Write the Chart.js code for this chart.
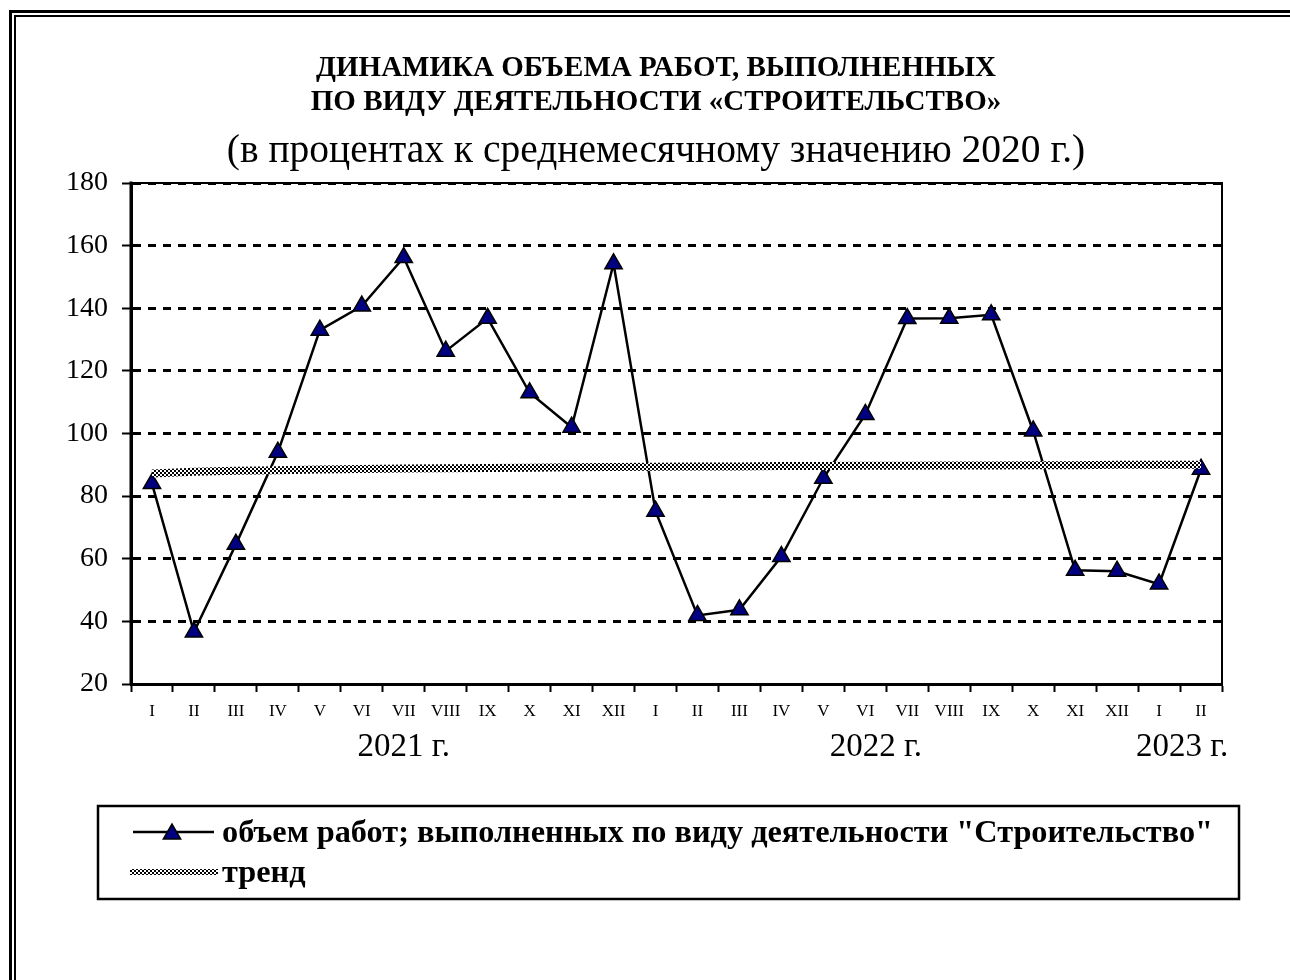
<!DOCTYPE html>
<html>
<head>
<meta charset="utf-8">
<script src="https://cdn.jsdelivr.net/npm/chart.js@4.4.0/dist/chart.umd.min.js"></script>
<style>
  html, body { margin: 0; padding: 0; background: #fff; overflow: hidden; }
  #wrap { position: relative; width: 1290px; height: 980px; }
  .frameOuter { position: absolute; left: 9px; top: 10px; width: 1400px; height: 1100px; border: 3px solid #000; box-sizing: border-box; }
  .frameInner { position: absolute; left: 14px; top: 15px; width: 1400px; height: 1100px; border: 2px solid #000; box-sizing: border-box; }
  canvas { position: absolute; left: 0; top: 0; }
</style>
</head>
<body>
<div id="wrap">
  <div class="frameOuter"></div>
  <div class="frameInner"></div>
  <canvas id="c" width="1290" height="980"></canvas>
</div>
<script>
// ---- data ----
const months = ['I','II','III','IV','V','VI','VII','VIII','IX','X','XI','XII',
                'I','II','III','IV','V','VI','VII','VIII','IX','X','XI','XII',
                'I','II'];
const volumeValues = [84, 36.6, 64.6, 94, 133, 140.7, 156.2, 126.3, 136.8, 113, 102, 154.2,
                      75.2, 41.9, 43.7, 60.7, 85.7, 106.1, 136.7, 136.8, 137.9, 100.8, 56.3, 56,
                      51.9, 88.6];
const trendValues = [87.2, 87.8, 88.1, 88.3, 88.5, 88.7, 88.8, 88.9, 89.0, 89.1, 89.2, 89.3,
                     89.4, 89.5, 89.5, 89.6, 89.6, 89.7, 89.7, 89.8, 89.8, 89.9, 89.9, 90.0,
                     90.0, 90.0];
const yearLabels = ['2021 г.', '2022 г.', '2023 г.'];
const yearLabelAt = [6, 17.25, 24.55];
const yTicks = { min: 20, max: 180, step: 20 };
const titleLines = ['ДИНАМИКА ОБЪЕМА РАБОТ, ВЫПОЛНЕННЫХ', 'ПО ВИДУ ДЕЯТЕЛЬНОСТИ «СТРОИТЕЛЬСТВО»'];
const subtitleText = '(в процентах к среднемесячному значению 2020 г.)';
const seriesNames = ['объем работ; выполненных по виду деятельности "Строительство"', 'тренд'];

const SERIF = '"Liberation Serif", "Times New Roman", serif';

// checkered pattern for the trend line
function makeChecker(cell) {
  const pc = document.createElement('canvas');
  pc.width = cell * 2; pc.height = cell * 2;
  const g = pc.getContext('2d');
  g.fillStyle = '#fff'; g.fillRect(0, 0, pc.width, pc.height);
  g.fillStyle = '#000';
  g.fillRect(0, 0, cell, cell);
  g.fillRect(cell, cell, cell, cell);
  return g.createPattern(pc, 'repeat');
}
const ctx = document.getElementById('c').getContext('2d');
const checker = makeChecker(2);

const framePlugin = {
  id: 'framePlugin',
  beforeDatasetsDraw(chart) {
    const a = chart.chartArea, c = chart.ctx;
    c.save();
    c.strokeStyle = '#000';
    c.lineWidth = 2;
    c.beginPath();
    c.moveTo(a.left, a.top); c.lineTo(a.right, a.top); c.lineTo(a.right, a.bottom);
    c.stroke();
    c.lineWidth = 3;
    c.beginPath();
    c.moveTo(a.left, a.top - 1.5); c.lineTo(a.left, a.bottom);
    c.stroke();
    c.restore();
  },
  afterDraw(chart) {
    const c = chart.ctx;
    const xs = chart.scales.x;
    c.save();
    c.fillStyle = '#000';
    // titles
    c.textAlign = 'center';
    c.textBaseline = 'middle';
    c.font = 'bold 29px ' + SERIF;
    c.fillText(titleLines[0], 656, 69);
    c.fillText(titleLines[1], 656, 103);
    c.textBaseline = 'alphabetic';
    c.font = '39.5px ' + SERIF;
    c.fillText(subtitleText, 656, 162);
    // year labels
    c.font = '33px ' + SERIF;
    yearLabels.forEach((t, i) => {
      c.fillText(t, xs.getPixelForValue(yearLabelAt[i]), 756);
    });
    // legend box
    c.strokeStyle = '#000';
    c.lineWidth = 2.5;
    c.strokeRect(98, 806, 1141, 93);
    // item 1
    c.beginPath(); c.moveTo(133, 832); c.lineTo(214, 832); c.stroke();
    c.fillStyle = '#000080';
    c.lineWidth = 1.5;
    Chart.helpers.drawPoint(c, { pointStyle: 'triangle', radius: 10, borderWidth: 1.5, rotation: 0 }, 172, 834);
    // item 2
    c.fillStyle = checker;
    c.fillRect(130, 869, 88, 6);
    c.fillStyle = '#000';
    c.font = 'bold 32.3px ' + SERIF;
    c.textAlign = 'left';
    c.fillText(seriesNames[0], 222, 842);
    c.fillText(seriesNames[1], 222, 882);
    c.restore();
  }
};

new Chart(ctx, {
  type: 'line',
  data: {
    labels: months,
    datasets: [
      {
        label: seriesNames[1],
        data: trendValues,
        borderColor: checker,
        borderWidth: 8,
        pointRadius: 0,
        borderCapStyle: 'butt',
        tension: 0,
        order: -1
      },
      {
        label: seriesNames[0],
        data: volumeValues,
        borderColor: '#000',
        borderWidth: 2.5,
        tension: 0,
        pointStyle: 'triangle',
        pointRadius: 10,
        pointBackgroundColor: '#000080',
        pointBorderColor: '#000',
        pointBorderWidth: 1.5,
        order: 0
      }
    ]
  },
  options: {
    responsive: false,
    animation: false,
    devicePixelRatio: 1,
    layout: { padding: { left: 20, right: 68, top: 183, bottom: 0 } },
    plugins: {
      legend: { display: false },
      tooltip: { enabled: false },
      title: { display: false },
      subtitle: { display: false }
    },
    scales: {
      x: {
        type: 'category',
        offset: true,
        grid: { display: true, drawOnChartArea: false, drawTicks: true, tickLength: 8, tickColor: '#000', tickWidth: 2, offset: true },
        border: { display: true, color: '#000', width: 3 },
        ticks: { color: '#000', font: { family: SERIF, size: 17 }, padding: 9, maxRotation: 0, autoSkip: false },
        afterFit(s) { s.height = 296; }
      },
      y: {
        min: yTicks.min, max: yTicks.max,
        grid: { color: '#000', lineWidth: 3, tickColor: '#000', tickWidth: 2, tickLength: 9, tickBorderDash: [] },
        border: { display: true, color: '#000', width: 3, dash: [8, 7] },
        ticks: { stepSize: yTicks.step, color: '#000', font: { family: SERIF, size: 28 }, padding: 14 },
        afterFit(s) { s.width = 111; }
      }
    }
  },
  plugins: [framePlugin]
});
</script>
</body>
</html>
